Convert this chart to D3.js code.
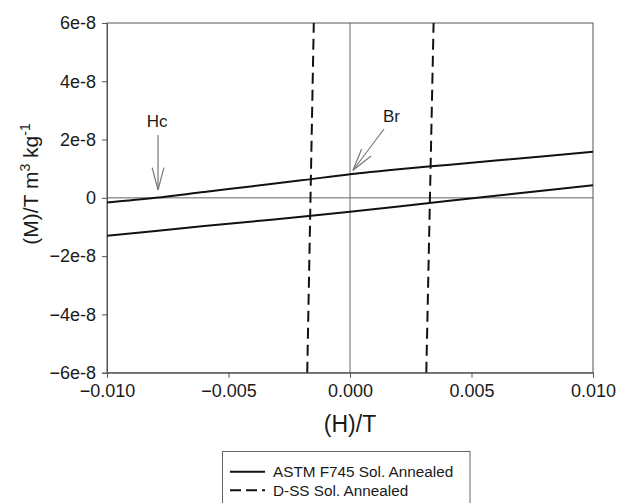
<!DOCTYPE html>
<html><head><meta charset="utf-8">
<script src="https://cdn.jsdelivr.net/npm/d3@7"></script>
<style>body{margin:0;background:#fff}svg{display:block}text{font-family:"Liberation Sans",Arial,sans-serif}</style>
</head><body><svg id="c" width="619" height="503"></svg>
<script>
// Data (M in units of 1e-8 T m^3 kg^-1, H in T)
const hValues = [-0.010,-0.008,-0.006,-0.004,-0.002,0.000,0.002,0.004,0.006,0.008,0.010];
const astmUpper = [-0.16,0.00,0.20,0.40,0.60,0.81,0.98,1.13,1.28,1.43,1.58];
const astmLower = [-1.30,-1.14,-0.97,-0.81,-0.65,-0.48,-0.30,-0.11,0.07,0.25,0.435];
const dssLeftH = [-0.00176,-0.00149];
const dssLeftM = [-6,6];
const dssRightH = [0.00314,0.00344];
const dssRightM = [-6,6];
const xTicks = [-0.010,-0.005,0.000,0.005,0.010];
const yTicks = [-6,-4,-2,0,2,4,6];
const legendLabels = ["ASTM F745 Sol. Annealed","D-SS Sol. Annealed"];
const annotations = [{label:"Hc",h:-0.0079,m:0},{label:"Br",h:0.0,m:0.81}];

const svg = d3.select("#c");
const L=107,R=593,T=23,B=372.7;
const x = d3.scaleLinear().domain([-0.010,0.010]).range([L,R]);
const y = d3.scaleLinear().domain([-6,6]).range([B,T]);
const fmtX = d => (d<0?"\u2212":"")+Math.abs(d).toFixed(3);
const fmtY = d => d===0?"0":(d<0?"\u2212":"")+Math.abs(d)+"e-8";

svg.append("defs").append("clipPath").attr("id","clip").append("rect")
  .attr("x",L).attr("y",T).attr("width",R-L).attr("height",B-T);

// zero lines
svg.append("line").attr("x1",L).attr("x2",R).attr("y1",y(0)).attr("y2",y(0)).attr("stroke","#666").attr("stroke-width",1);
svg.append("line").attr("x1",x(0)).attr("x2",x(0)).attr("y1",T).attr("y2",B).attr("stroke","#666").attr("stroke-width",1);

// frame
svg.append("rect").attr("x",L).attr("y",T).attr("width",R-L).attr("height",B-T).attr("fill","none").attr("stroke","#555").attr("stroke-width",1);

const xAxis = svg.append("g").attr("transform",`translate(0,${B})`)
  .call(d3.axisBottom(x).tickValues(xTicks).tickFormat(fmtX).tickSize(5).tickPadding(7));
const yAxis = svg.append("g").attr("transform",`translate(${L},0)`)
  .call(d3.axisLeft(y).tickValues(yTicks).tickFormat(fmtY).tickSize(5).tickPadding(6));
[xAxis,yAxis].forEach(g=>{
  g.select(".domain").attr("stroke","#555");
  g.selectAll(".tick line").attr("stroke","#555");
  g.selectAll("text").attr("font-size",18).attr("fill","#1a1a1a").style("font-family","'Liberation Sans',Arial,sans-serif");
});

const plot = svg.append("g").attr("clip-path","url(#clip)");
const line = d3.line().x(d=>x(d[0])).y(d=>y(d[1])).curve(d3.curveMonotoneX);
[astmUpper,astmLower].forEach(arr=>{
  plot.append("path").datum(hValues.map((h,i)=>[h,arr[i]])).attr("d",line)
    .attr("fill","none").attr("stroke","#111").attr("stroke-width",2);
});
const lineL = d3.line().x(d=>x(d[0])).y(d=>y(d[1]));
[[dssLeftH,dssLeftM],[dssRightH,dssRightM]].forEach(([hs,ms])=>{
  plot.append("path").datum(hs.map((h,i)=>[h,ms[i]])).attr("d",lineL)
    .attr("fill","none").attr("stroke","#111").attr("stroke-width",2).attr("stroke-dasharray","11,6");
});

// annotations
const ac="#777";
function arrow(x1,y1,x2,y2){
  svg.append("line").attr("x1",x1).attr("y1",y1).attr("x2",x2).attr("y2",y2).attr("stroke",ac).attr("stroke-width",1.2);
  const a=Math.atan2(y2-y1,x2-x1), len=23, sp=0.26;
  [a+sp,a-sp].forEach(b=>{
    svg.append("line").attr("x1",x2).attr("y1",y2).attr("x2",x2-len*Math.cos(b)).attr("y2",y2-len*Math.sin(b))
      .attr("stroke",ac).attr("stroke-width",1.2);
  });
}
const hc=annotations[0], br=annotations[1];
svg.append("text").attr("x",x(hc.h)-1).attr("y",127).attr("text-anchor","middle").attr("font-size",17).attr("fill","#1a1a1a").text(hc.label);
arrow(x(hc.h),135,x(hc.h),y(hc.m)-8);
svg.append("text").attr("x",383).attr("y",122).attr("text-anchor","start").attr("font-size",17).attr("fill","#1a1a1a").text(br.label);
arrow(384,129,x(br.h)+3,y(br.m)-4);

// axis titles
svg.append("text").attr("x",(L+R)/2).attr("y",432).attr("text-anchor","middle").attr("font-size",23).attr("fill","#1a1a1a").text("(H)/T");
const yt = svg.append("text").attr("transform",`translate(38,184) rotate(-90)`).attr("text-anchor","middle").attr("font-size",21).attr("fill","#1a1a1a");
yt.append("tspan").text("(M)/T m");
yt.append("tspan").attr("font-size",14).attr("dy",-8).text("3");
yt.append("tspan").attr("dy",8).text(" kg");
yt.append("tspan").attr("font-size",14).attr("dy",-8).text("-1");

// legend
const lg = svg.append("g");
lg.append("rect").attr("x",222.5).attr("y",451.5).attr("width",247.5).attr("height",60).attr("fill","#fff").attr("stroke","#666");
legendLabels.forEach((t,i)=>{
  const yy=471.7+i*18.5;
  lg.append("line").attr("x1",230).attr("x2",265).attr("y1",yy).attr("y2",yy).attr("stroke","#111").attr("stroke-width",2)
    .attr("stroke-dasharray",i?"11,5":null);
  lg.append("text").attr("x",273).attr("y",yy+5.3).attr("font-size",15.3).attr("fill","#1a1a1a").text(t);
});
</script></body></html>
